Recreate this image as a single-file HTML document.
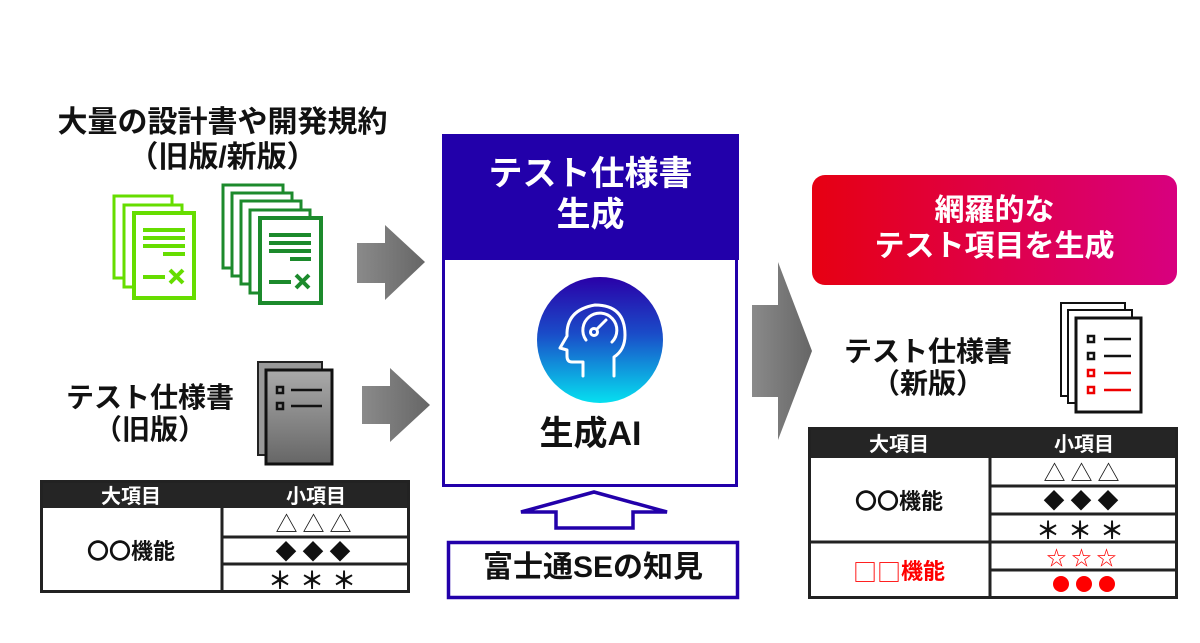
<!DOCTYPE html>
<html><head><meta charset="utf-8"><style>
body{margin:0;width:1200px;height:643px;background:#fff;position:relative;overflow:hidden;font-family:"Liberation Sans","Noto Sans CJK JP",sans-serif;font-weight:bold;color:#111}
.a{position:absolute}
.t{position:absolute;text-align:center;white-space:nowrap;line-height:1.15}
.c{position:absolute;text-align:center;white-space:nowrap;display:flex;align-items:center;justify-content:center}
</style></head><body>

<div class="t" style="left:40px;width:365px;top:106px;font-size:30px">大量の設計書や開発規約<br>（旧版/新版）</div>
<div class="t" style="left:55px;width:190px;top:382px;font-size:28px">テスト仕様書<br>（旧版）</div>
<div class="t" style="left:838px;width:180px;top:336px;font-size:28px">テスト仕様書<br>（新版）</div>

<svg class="a" style="left:0;top:0" width="1200" height="643">
<defs>
<linearGradient id="cg" x1="0" y1="0" x2="0" y2="1"><stop offset="0" stop-color="#2a00a8"/><stop offset="0.45" stop-color="#1a4cc8"/><stop offset="1" stop-color="#06e0f0"/></linearGradient>
<linearGradient id="gg" x1="0" y1="0" x2="0" y2="1"><stop offset="0" stop-color="#aaa"/><stop offset="1" stop-color="#666"/></linearGradient>
<linearGradient id="ag" x1="0" y1="0" x2="1" y2="0"><stop offset="0" stop-color="#8a8a8a"/><stop offset="1" stop-color="#666"/></linearGradient>
<linearGradient id="rg" x1="0" y1="0" x2="1" y2="0"><stop offset="0" stop-color="#e60012"/><stop offset="1" stop-color="#d8007f"/></linearGradient>
</defs>
<g fill="#fff" stroke="#66dd00" stroke-width="3">
<rect x="114" y="196" width="58" height="82"/><rect x="124" y="205" width="58" height="82"/><rect x="134" y="213" width="60" height="85" stroke-width="4"/>
</g>
<g stroke="#66dd00" stroke-width="4"><line x1="143" y1="230" x2="185" y2="230"/><line x1="143" y1="238" x2="185" y2="238"/><line x1="143" y1="246" x2="185" y2="246"/><line x1="163" y1="254" x2="185" y2="254"/><line x1="143" y1="277" x2="165" y2="277"/><line x1="170" y1="270" x2="183" y2="283"/><line x1="183" y1="270" x2="170" y2="283"/></g>
<g fill="#fff" stroke="#1c8a2c" stroke-width="3">
<rect x="223" y="185" width="60" height="83"/><rect x="232" y="193" width="60" height="83"/><rect x="241" y="201" width="60" height="83"/><rect x="250" y="210" width="60" height="83"/><rect x="260" y="218" width="61" height="85" stroke-width="4"/>
</g>
<g stroke="#1c8a2c" stroke-width="4"><line x1="269" y1="235" x2="311" y2="235"/><line x1="269" y1="243" x2="311" y2="243"/><line x1="269" y1="251" x2="311" y2="251"/><line x1="290" y1="259" x2="311" y2="259"/><line x1="269" y1="282" x2="291" y2="282"/><line x1="296" y1="275" x2="309" y2="288"/><line x1="309" y1="275" x2="296" y2="288"/></g>
<rect x="258" y="362" width="64" height="93" fill="#999" stroke="#222" stroke-width="2"/>
<rect x="266" y="370" width="66" height="94" fill="url(#gg)" stroke="#111" stroke-width="3"/>
<g stroke="#111" stroke-width="2.5" fill="none"><rect x="277" y="387" width="6" height="6"/><rect x="277" y="403" width="6" height="6"/><line x1="291" y1="390" x2="322" y2="390"/><line x1="291" y1="406" x2="322" y2="406"/></g>
<g fill="#fff" stroke="#111" stroke-width="2"><rect x="1061" y="303" width="64" height="93"/><rect x="1068" y="310" width="64" height="93"/></g>
<rect x="1076" y="318" width="65" height="94" fill="#fff" stroke="#111" stroke-width="3"/>
<g stroke-width="2.5" fill="none"><rect x="1088" y="336" width="6" height="6" stroke="#111"/><rect x="1088" y="353" width="6" height="6" stroke="#111"/><rect x="1088" y="370" width="6" height="6" stroke="#e00"/><rect x="1088" y="387" width="6" height="6" stroke="#e00"/>
<line x1="1104" y1="339" x2="1131" y2="339" stroke="#111"/><line x1="1104" y1="356" x2="1131" y2="356" stroke="#111"/><line x1="1104" y1="373" x2="1131" y2="373" stroke="#e00"/><line x1="1104" y1="390" x2="1131" y2="390" stroke="#e00"/></g>
<polygon points="357,243 385,243 385,225 425,262 385,300 385,283 357,283" fill="url(#ag)"/>
<polygon points="362,386 390,386 390,368 430,405 390,442 390,424 362,424" fill="url(#ag)"/>
<polygon points="752,305 778,305 778,262 812,351 778,440 778,397 752,397" fill="url(#ag)"/>
<rect x="443.5" y="135.5" width="293" height="350" fill="#fff" stroke="#2200aa" stroke-width="3"/>
<rect x="442" y="134" width="297" height="126" fill="#2200aa"/>
<circle cx="600" cy="340" r="63" fill="url(#cg)"/>
<g fill="none" stroke="#fff" stroke-width="3" stroke-linecap="round" stroke-linejoin="round">
<path d="M583,376 L583,362 L572,362 Q567,362 567,356 L567,350 L560,348 L567,336 Q566,310 595,305 Q625,305 625,335 Q625,350 614,357 L614,376"/>
<path d="M586,340 A17,17 0 1 1 612,342"/>
<circle cx="594" cy="332" r="3.5"/><line x1="597" y1="329" x2="606" y2="320"/>
</g>
<polygon points="594,492 667,512 633,512 633,528 556,528 556,512 521,512" fill="#fff" stroke="#2200aa" stroke-width="3.5"/>
<rect x="448.5" y="542.5" width="289" height="55" fill="#fff" stroke="#2200aa" stroke-width="3.5"/>
<rect x="812" y="175" width="365" height="110" rx="13" fill="url(#rg)"/>

<rect x="40" y="480" width="370" height="28" fill="#252525"/>
<g fill="none" stroke="#222" stroke-width="3">
<rect x="41.5" y="481.5" width="367" height="110"/>
<line x1="222" y1="508" x2="222" y2="592"/>
<line x1="222" y1="537" x2="410" y2="537"/><line x1="222" y1="564" x2="410" y2="564"/>
</g>
<rect x="808" y="427" width="370" height="31" fill="#252525"/>
<g fill="none" stroke="#222" stroke-width="3">
<rect x="809.5" y="428.5" width="367" height="169"/>
<line x1="990" y1="458" x2="990" y2="598"/>
<line x1="990" y1="486" x2="1178" y2="486"/><line x1="990" y1="514" x2="1178" y2="514"/>
<line x1="808" y1="542" x2="1178" y2="542"/><line x1="990" y1="570" x2="1178" y2="570"/>
</g>
<g fill="#f00"><circle cx="1061" cy="584" r="8"/><circle cx="1084" cy="584" r="8"/><circle cx="1107" cy="584" r="8"/></g>
</svg>

<div class="t" style="left:442px;width:297px;top:154px;font-size:34px;color:#fff;line-height:1.2">テスト仕様書<br>生成</div>
<div class="t" style="left:442px;width:297px;top:415px;font-size:34px">生成AI</div>
<div class="t" style="left:448px;width:290px;top:551px;font-size:30px">富士通SEの知見</div>
<div class="t" style="left:812px;width:365px;top:193px;font-size:30px;color:#fff;line-height:1.2">網羅的な<br>テスト項目を生成</div>

<div class="c" style="left:40px;width:182px;top:480px;height:28px;font-size:20px;color:#fff">大項目</div>
<div class="c" style="left:222px;width:188px;top:480px;height:28px;font-size:20px;color:#fff">小項目</div>
<div class="c" style="left:40px;width:182px;top:508px;height:84px;font-size:22px">〇〇機能</div>
<div class="c" style="left:222px;width:188px;top:508px;height:29px;font-size:22px;font-weight:normal;letter-spacing:5px">△△△</div>
<div class="c" style="left:222px;width:188px;top:537px;height:27px;font-size:21px;letter-spacing:6px">◆◆◆</div>
<div class="c" style="left:222px;width:188px;top:564px;height:28px;font-size:24px;letter-spacing:8px">＊＊＊</div>

<div class="c" style="left:808px;width:182px;top:427px;height:31px;font-size:20px;color:#fff">大項目</div>
<div class="c" style="left:990px;width:188px;top:427px;height:31px;font-size:20px;color:#fff">小項目</div>
<div class="c" style="left:808px;width:182px;top:458px;height:84px;font-size:22px">〇〇機能</div>
<div class="c" style="left:990px;width:188px;top:458px;height:28px;font-size:22px;font-weight:normal;letter-spacing:5px">△△△</div>
<div class="c" style="left:990px;width:188px;top:486px;height:28px;font-size:21px;letter-spacing:6px">◆◆◆</div>
<div class="c" style="left:990px;width:188px;top:514px;height:28px;font-size:24px;letter-spacing:8px">＊＊＊</div>
<div class="c" style="left:808px;width:182px;top:542px;height:56px;font-size:22px;color:#f00"><span style="font-weight:normal;font-size:24px;font-family:'Noto Sans CJK JP',sans-serif">□□</span>機能</div>
<div class="c" style="left:990px;width:188px;top:542px;height:28px;font-size:20px;color:#f00;font-weight:normal;letter-spacing:5px">☆☆☆</div>
</body></html>
